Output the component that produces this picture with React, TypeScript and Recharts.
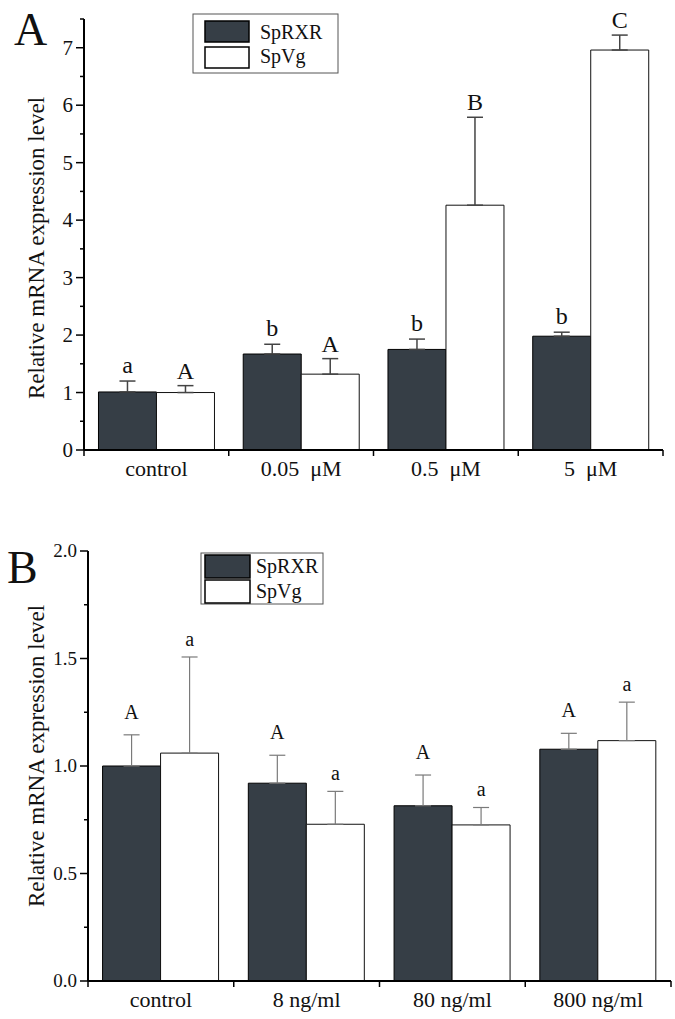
import React from 'react';
import { BarChart, Bar, XAxis, YAxis, ErrorBar, LabelList } from 'recharts';

const seriesNames = ['SpRXR', 'SpVg'];

// Panel A
const catsA = ['control', '0.05  μM', '0.5  μM', '5  μM'];
const rxrA = [1.01, 1.67, 1.75, 1.98];
const rxrErrA = [0.19, 0.17, 0.18, 0.07];
const vgA = [1.0, 1.32, 4.26, 6.96];
const vgErrA = [0.12, 0.27, 1.53, 0.26];
const rxrLetA = ['a', 'b', 'b', 'b'];
const vgLetA = ['A', 'A', 'B', 'C'];
const yTicksA = [0, 0.5, 1, 1.5, 2, 2.5, 3, 3.5, 4, 4.5, 5, 5.5, 6, 6.5, 7, 7.5];

// Panel B
const catsB = ['control', '8 ng/ml', '80 ng/ml', '800 ng/ml'];
const rxrB = [1.0, 0.92, 0.815, 1.078];
const rxrErrB = [0.145, 0.13, 0.143, 0.074];
const vgB = [1.06, 0.729, 0.726, 1.118];
const vgErrB = [0.447, 0.153, 0.081, 0.179];
const rxrLetB = ['A', 'A', 'A', 'A'];
const vgLetB = ['a', 'a', 'a', 'a'];
const yTicksB = [0, 0.25, 0.5, 0.75, 1, 1.25, 1.5, 1.75, 2];

const FONT = '"Liberation Serif", "Times New Roman", serif';
const DARK = '#363e46';

function build(cats: string[], rxr: number[], rxrErr: number[], vg: number[], vgErr: number[], rl: string[], vl: string[]) {
  return cats.map((c, i) => ({
    cat: c,
    rxr: rxr[i],
    rxrErr: [0, rxrErr[i]],
    vg: vg[i],
    vgErr: [0, vgErr[i]],
    rxrLet: rl[i],
    vgLet: vl[i],
  }));
}

const dataA = build(catsA, rxrA, rxrErrA, vgA, vgErrA, rxrLetA, vgLetA);
const dataB = build(catsB, rxrB, rxrErrB, vgB, vgErrB, rxrLetB, vgLetB);

type PanelProps = {
  data: any[];
  width: number;
  height: number;
  margin: { top: number; right: number; bottom: number; left: number };
  yWidth: number;
  domain: [number, number];
  ticks: number[];
  majorStep: number;
  fmt: (v: number) => string;
  yFont: number;
  xFont: number;
  errColor: string;
  errWidth: number;
  rxrErrs: number[];
  vgErrs: number[];
  letFont: number;
  rxrLetGap: number;
  vgLetGap: number;
};

function Panel(p: PanelProps) {
  const n = p.data.length;
  const plotW = p.width - p.margin.left - p.margin.right - p.yWidth;
  const band = plotW / n;

  const yTick = (props: any) => {
    const { x, y, payload } = props;
    const v = payload.value;
    const r = v / p.majorStep;
    const major = Math.abs(r - Math.round(r)) < 1e-6;
    return (
      <g>
        <line x1={x - (major ? 8 : 4)} x2={x} y1={y} y2={y} stroke="#000" strokeWidth={1.5} />
        {major && (
          <text x={x - 11} y={y} dy={p.yFont * 0.34} textAnchor="end" fontSize={p.yFont} fontFamily={FONT} fill="#111">
            {p.fmt(v)}
          </text>
        )}
      </g>
    );
  };

  const xTick = (props: any) => {
    const { x, y, payload, index } = props;
    return (
      <g>
        <line x1={x - band / 2} x2={x - band / 2} y1={y} y2={y + 6} stroke="#000" strokeWidth={1.5} />
        {index === n - 1 && <line x1={x + band / 2} x2={x + band / 2} y1={y} y2={y + 6} stroke="#000" strokeWidth={1.5} />}
        <text x={x} y={y + 26} textAnchor="middle" fontSize={p.xFont} fontFamily={FONT} fill="#111" style={{ whiteSpace: 'pre' }}>
          {payload.value}
        </text>
      </g>
    );
  };

  const letter = (errs: number[], vals: number[], gap: number) => (props: any) => {
    const { x, y, width, height, value, index } = props;
    const v = vals[index];
    const pxPer = v !== 0 ? height / v : 0;
    const top = y - errs[index] * pxPer;
    return (
      <text x={x + width / 2} y={top - gap} textAnchor="middle" fontSize={p.letFont} fontFamily={FONT} fill="#111">
        {value}
      </text>
    );
  };

  const rxrVals = p.data.map((d) => d.rxr);
  const vgVals = p.data.map((d) => d.vg);

  return (
    <BarChart width={p.width} height={p.height} data={p.data} margin={p.margin} barCategoryGap="10%" barGap={0}>
      <XAxis
        dataKey="cat"
        height={30}
        interval={0}
        tickSize={0}
        tickMargin={0}
        tick={xTick}
        axisLine={{ stroke: '#000', strokeWidth: 2 }}
        tickLine={false}
      />
      <YAxis
        width={p.yWidth}
        domain={p.domain}
        ticks={p.ticks}
        type="number"
        allowDataOverflow
        interval={0}
        tickSize={0}
        tickMargin={0}
        tick={yTick}
        tickLine={false}
        axisLine={{ stroke: '#000', strokeWidth: 2 }}
      />
      <Bar dataKey="rxr" name={seriesNames[0]} fill={DARK} stroke="#000" strokeWidth={1} isAnimationActive={false}>
        <ErrorBar dataKey="rxrErr" width={8} stroke={p.errColor} strokeWidth={p.errWidth} />
        <LabelList dataKey="rxrLet" content={letter(p.rxrErrs, rxrVals, p.rxrLetGap)} />
      </Bar>
      <Bar dataKey="vg" name={seriesNames[1]} fill="#ffffff" stroke="#111" strokeWidth={1} isAnimationActive={false}>
        <ErrorBar dataKey="vgErr" width={8} stroke={p.errColor} strokeWidth={p.errWidth} />
        <LabelList dataKey="vgLet" content={letter(p.vgErrs, vgVals, p.vgLetGap)} />
      </Bar>
    </BarChart>
  );
}

function Legend2(props: { x: number; y: number; w: number; h: number; sx: number; sy: number; sw: number; sh: number; sgap: number; tx: number; b1: number; b2: number }) {
  const q = props;
  return (
    <g>
      <rect x={q.x} y={q.y} width={q.w} height={q.h} fill="#fff" stroke="#555" strokeWidth={1} />
      <rect x={q.sx} y={q.sy} width={q.sw} height={q.sh} fill={DARK} stroke="#000" strokeWidth={1.5} />
      <rect x={q.sx} y={q.sy + q.sh + q.sgap} width={q.sw} height={q.sh} fill="#fff" stroke="#000" strokeWidth={1.5} />
      <text x={q.tx} y={q.b1} fontSize={20} fontFamily={FONT} fill="#111">{seriesNames[0]}</text>
      <text x={q.tx} y={q.b2} fontSize={20} fontFamily={FONT} fill="#111">{seriesNames[1]}</text>
    </g>
  );
}

export default function App() {
  const yLabel = 'Relative mRNA expression level';
  return (
    <div style={{ position: 'absolute', left: 0, top: 0, width: 675, height: 1019, background: '#fff' }}>
      <div style={{ position: 'absolute', left: 0, top: 0 }}>
        <Panel
          data={dataA}
          width={675}
          height={500}
          margin={{ top: 19, right: 12, bottom: 20, left: 0 }}
          yWidth={84}
          domain={[0, 7.5]}
          ticks={yTicksA}
          majorStep={1}
          fmt={(v) => String(v)}
          yFont={21}
          xFont={22}
          errColor="#444"
          errWidth={1.5}
          rxrErrs={rxrErrA}
          vgErrs={vgErrA}
          letFont={24}
          rxrLetGap={8}
          vgLetGap={7}
        />
      </div>
      <div style={{ position: 'absolute', left: 0, top: 500 }}>
        <Panel
          data={dataB}
          width={675}
          height={519}
          margin={{ top: 51, right: 4, bottom: 8, left: 0 }}
          yWidth={88}
          domain={[0, 2]}
          ticks={yTicksB}
          majorStep={0.5}
          fmt={(v) => v.toFixed(1)}
          yFont={19}
          xFont={22}
          errColor="#7a7a7a"
          errWidth={1.2}
          rxrErrs={rxrErrB}
          vgErrs={vgErrB}
          letFont={20}
          rxrLetGap={16}
          vgLetGap={11}
        />
      </div>
      <svg width={675} height={1019} style={{ position: 'absolute', left: 0, top: 0, pointerEvents: 'none' }}>
        <text x={14} y={45} fontSize={46} fontFamily={FONT} fill="#111">A</text>
        <text x={7} y={583} fontSize={46} fontFamily={FONT} fill="#111">B</text>
        <text x={0} y={0} transform="translate(44 248) rotate(-90)" textAnchor="middle" fontSize={23} fontFamily={FONT} fill="#111">{yLabel}</text>
        <text x={0} y={0} transform="translate(44 756) rotate(-90)" textAnchor="middle" fontSize={23} fontFamily={FONT} fill="#111">{yLabel}</text>
        <Legend2 x={193} y={14} w={145} h={59} sx={205} sy={21} sw={44} sh={21} sgap={5} tx={260} b1={39} b2={63} />
        <Legend2 x={201} y={553} w={122} h={51} sx={205} sy={555} sw={45} sh={23} sgap={2} tx={256} b1={573} b2={598} />
      </svg>
    </div>
  );
}
